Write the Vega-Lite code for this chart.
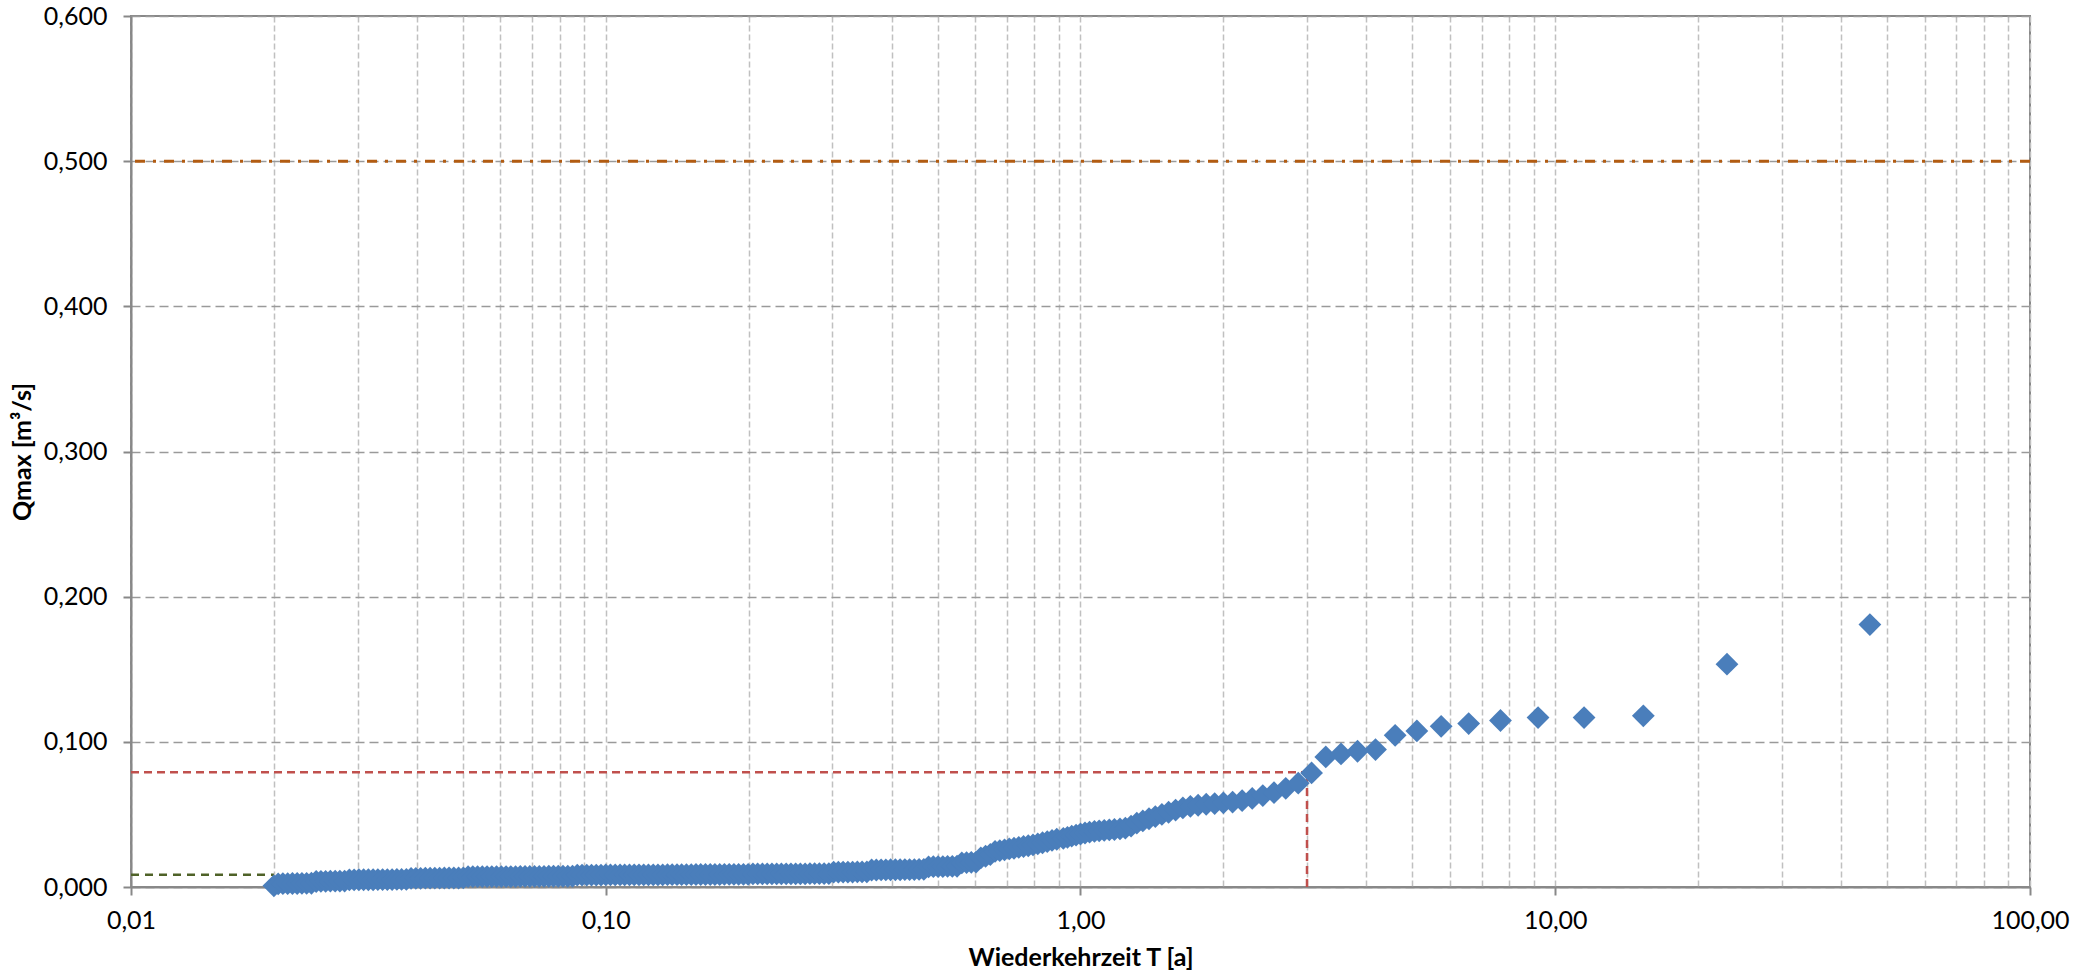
{
"$schema": "https://vega.github.io/schema/vega-lite/v6.json",
"width": 1899, "height": 871,
"autosize": {"type": "none"},
"padding": {"left": 131, "top": 16, "right": 66, "bottom": 92},
"background": "white",
"config": {
  "locale": {"number": {"decimal": ",", "thousands": ".", "grouping": [3], "currency": ["", " €"]}},
  "view": {"stroke": "#888888", "strokeWidth": 2},
  "font": "Lato",
  "axis": {"labelFont": "Lato", "titleFont": "Lato", "labelColor": "#000000", "titleColor": "#000000", "domainColor": "#888888", "domainWidth": 2, "tickColor": "#888888", "tickWidth": 2, "labelFontSize": 25, "titleFontSize": 25, "titleFontWeight": "bold", "labelFlush": false, "labelOverlap": false}
},
"layer": [
  {
    "data": {"values": [{"T":0.02,"Q":0.0008},{"T":46.0,"Q":0.1808}]},
    "mark": {"type": "point", "size": 0, "opacity": 0},
    "encoding": {
      "x": {"field": "T", "type": "quantitative", "title": "Wiederkehrzeit T [a]",
        "scale": {"type": "log", "domain": [0.01, 100], "nice": false},
        "axis": {
          "values": [0.01,0.02,0.03,0.04,0.05,0.06,0.07,0.08,0.09,0.1,0.2,0.3,0.4,0.5,0.6,0.7,0.8,0.9,1,2,3,4,5,6,7,8,9,10,20,30,40,50,60,70,80,90,100],
          "format": ".2f",
          "labelExpr": "abs(log(datum.value)/LN10 - round(log(datum.value)/LN10)) < 0.001 ? datum.label : ''",
          "tickSize": 8,
          "tickOpacity": {"condition": {"test": "abs(log(datum.value)/LN10 - round(log(datum.value)/LN10)) < 0.001", "value": 1}, "value": 0},
          "labelPadding": 13,
          "titlePadding": 12,
          "grid": true, "gridColor": "#c0c0c0", "gridDash": [6, 3], "gridWidth": 1.5
        }
      },
      "y": {"field": "Q", "type": "quantitative", "title": "Qmax [m³/s]",
        "scale": {"domain": [0, 0.6], "nice": false},
        "axis": {
          "values": [0, 0.1, 0.2, 0.3, 0.4, 0.5, 0.6],
          "format": ".3f",
          "tickSize": 8,
          "labelPadding": 16,
          "titlePadding": 8,
          "grid": true, "gridColor": "#9a9a9a", "gridDash": [9, 5], "gridWidth": 1.5
        }
      }
    }
  },
  {
    "data": {"values": [{"Qr": 0.5}]},
    "mark": {"type": "rule", "color": "#b25c12", "strokeWidth": 3, "strokeDash": [10, 8, 3, 8]},
    "encoding": {"y": {"field": "Qr", "type": "quantitative", "title": "Qmax [m³/s]"}}
  },
  {
    "data": {"values": [{"T1": 0.01, "T2": 0.02, "Q1": 0.0085, "Q2": 0.0085}]},
    "mark": {"type": "rule", "color": "#4f6228", "strokeWidth": 2.5, "strokeDash": [8, 6]},
    "encoding": {
      "x": {"field": "T1", "type": "quantitative", "title": "Wiederkehrzeit T [a]"},
      "x2": {"field": "T2"},
      "y": {"field": "Q1", "type": "quantitative", "title": "Qmax [m³/s]"},
      "y2": {"field": "Q2"}
    }
  },
  {
    "data": {"values": [{"T1": 0.01, "T2": 3, "Q1": 0.079, "Q2": 0.079}, {"T1": 3, "T2": 3, "Q1": 0, "Q2": 0.079}]},
    "mark": {"type": "rule", "color": "#c0504d", "strokeWidth": 2.5, "strokeDash": [8, 5]},
    "encoding": {
      "x": {"field": "T1", "type": "quantitative", "title": "Wiederkehrzeit T [a]"},
      "x2": {"field": "T2"},
      "y": {"field": "Q1", "type": "quantitative", "title": "Qmax [m³/s]"},
      "y2": {"field": "Q2"}
    }
  },
  {
    "data": {"values": [
{"T":0.0200,"Q":0.0008},{"T":0.02042,"Q":0.0022},{"T":0.02089,"Q":0.0023},{"T":0.02138,"Q":0.0023},{"T":0.02188,"Q":0.0024},{"T":0.02239,"Q":0.0024},{"T":0.02291,"Q":0.0025},{"T":0.02344,"Q":0.0025},{"T":0.02399,"Q":0.0026},
{"T":0.02455,"Q":0.0038},{"T":0.02512,"Q":0.0039},{"T":0.02570,"Q":0.0039},{"T":0.02630,"Q":0.0040},{"T":0.02692,"Q":0.0040},{"T":0.02754,"Q":0.0041},{"T":0.02818,"Q":0.0041},
{"T":0.02884,"Q":0.0049},{"T":0.02951,"Q":0.0049},{"T":0.03020,"Q":0.0050},{"T":0.03090,"Q":0.0050},{"T":0.03162,"Q":0.0050},{"T":0.03236,"Q":0.0050},{"T":0.03311,"Q":0.0051},{"T":0.03388,"Q":0.0051},{"T":0.03467,"Q":0.0051},{"T":0.03548,"Q":0.0051},{"T":0.03631,"Q":0.0052},{"T":0.03715,"Q":0.0052},{"T":0.03802,"Q":0.0052},
{"T":0.03890,"Q":0.0060},{"T":0.03981,"Q":0.0060},{"T":0.04074,"Q":0.0060},{"T":0.04169,"Q":0.0061},{"T":0.04266,"Q":0.0061},{"T":0.04365,"Q":0.0061},{"T":0.04467,"Q":0.0061},{"T":0.04571,"Q":0.0062},{"T":0.04677,"Q":0.0062},{"T":0.04786,"Q":0.0062},{"T":0.04898,"Q":0.0062},{"T":0.05012,"Q":0.0063},
{"T":0.05129,"Q":0.0071},{"T":0.05248,"Q":0.0071},{"T":0.05370,"Q":0.0071},{"T":0.05495,"Q":0.0071},{"T":0.05623,"Q":0.0072},{"T":0.05754,"Q":0.0072},{"T":0.05888,"Q":0.0072},{"T":0.06026,"Q":0.0072},{"T":0.06166,"Q":0.0072},{"T":0.06310,"Q":0.0072},{"T":0.06457,"Q":0.0072},{"T":0.06607,"Q":0.0073},{"T":0.06761,"Q":0.0073},{"T":0.06918,"Q":0.0073},{"T":0.07079,"Q":0.0073},{"T":0.07244,"Q":0.0073},{"T":0.07413,"Q":0.0073},{"T":0.07586,"Q":0.0074},{"T":0.07762,"Q":0.0074},{"T":0.07943,"Q":0.0074},{"T":0.08128,"Q":0.0074},{"T":0.08318,"Q":0.0074},{"T":0.08511,"Q":0.0074},
{"T":0.08710,"Q":0.0082},{"T":0.08913,"Q":0.0082},{"T":0.09120,"Q":0.0082},{"T":0.09333,"Q":0.0082},{"T":0.09550,"Q":0.0082},{"T":0.09772,"Q":0.0082},{"T":0.1000,"Q":0.0083},{"T":0.1023,"Q":0.0083},{"T":0.1047,"Q":0.0083},{"T":0.1072,"Q":0.0083},{"T":0.1096,"Q":0.0083},{"T":0.1122,"Q":0.0083},{"T":0.1148,"Q":0.0084},{"T":0.1175,"Q":0.0084},{"T":0.1202,"Q":0.0084},{"T":0.1230,"Q":0.0084},{"T":0.1259,"Q":0.0084},{"T":0.1288,"Q":0.0084},{"T":0.1318,"Q":0.0084},{"T":0.1349,"Q":0.0085},{"T":0.1380,"Q":0.0085},{"T":0.1413,"Q":0.0085},{"T":0.1445,"Q":0.0085},{"T":0.1479,"Q":0.0085},{"T":0.1514,"Q":0.0085},{"T":0.1549,"Q":0.0086},{"T":0.1585,"Q":0.0086},{"T":0.1622,"Q":0.0086},{"T":0.1660,"Q":0.0086},{"T":0.1698,"Q":0.0086},{"T":0.1738,"Q":0.0086},{"T":0.1778,"Q":0.0087},{"T":0.1820,"Q":0.0087},{"T":0.1862,"Q":0.0087},{"T":0.1905,"Q":0.0087},{"T":0.1950,"Q":0.0087},{"T":0.1995,"Q":0.0087},
{"T":0.2042,"Q":0.0090},{"T":0.2089,"Q":0.0090},{"T":0.2138,"Q":0.0090},{"T":0.2188,"Q":0.0090},{"T":0.2239,"Q":0.0090},{"T":0.2291,"Q":0.0090},{"T":0.2344,"Q":0.0091},{"T":0.2399,"Q":0.0091},{"T":0.2455,"Q":0.0091},{"T":0.2512,"Q":0.0091},{"T":0.2570,"Q":0.0091},{"T":0.2630,"Q":0.0091},{"T":0.2692,"Q":0.0092},{"T":0.2754,"Q":0.0092},{"T":0.2818,"Q":0.0092},{"T":0.2884,"Q":0.0092},{"T":0.2951,"Q":0.0092},
{"T":0.3020,"Q":0.0102},{"T":0.3090,"Q":0.0102},{"T":0.3162,"Q":0.0103},{"T":0.3236,"Q":0.0103},{"T":0.3311,"Q":0.0103},{"T":0.3388,"Q":0.0104},{"T":0.3467,"Q":0.0104},{"T":0.3548,"Q":0.0104},
{"T":0.3631,"Q":0.0117},{"T":0.3715,"Q":0.0117},{"T":0.3802,"Q":0.0118},{"T":0.3890,"Q":0.0118},{"T":0.3981,"Q":0.0119},{"T":0.4074,"Q":0.0119},{"T":0.4169,"Q":0.0119},{"T":0.4266,"Q":0.0120},{"T":0.4365,"Q":0.0120},{"T":0.4467,"Q":0.0120},{"T":0.4571,"Q":0.0121},{"T":0.4677,"Q":0.0121},
{"T":0.4786,"Q":0.0139},{"T":0.4898,"Q":0.0140},{"T":0.5012,"Q":0.0140},{"T":0.5129,"Q":0.0141},{"T":0.5248,"Q":0.0142},{"T":0.5370,"Q":0.0142},{"T":0.5495,"Q":0.0143},
{"T":0.5623,"Q":0.0166},{"T":0.5754,"Q":0.0168},{"T":0.5888,"Q":0.0170},{"T":0.6026,"Q":0.0172},
{"T":0.6166,"Q":0.0200},{"T":0.6310,"Q":0.0212},{"T":0.6457,"Q":0.0224},
{"T":0.6607,"Q":0.0245},{"T":0.6761,"Q":0.0250},{"T":0.6918,"Q":0.0256},{"T":0.7079,"Q":0.0262},{"T":0.7244,"Q":0.0267},{"T":0.7413,"Q":0.0273},{"T":0.7586,"Q":0.0279},{"T":0.7762,"Q":0.0284},{"T":0.7943,"Q":0.0290},
{"T":0.8128,"Q":0.0297},{"T":0.8318,"Q":0.0305},{"T":0.8511,"Q":0.0313},{"T":0.8710,"Q":0.0321},{"T":0.8913,"Q":0.0329},
{"T":0.920,"Q":0.0335},{"T":0.9388,"Q":0.0342},{"T":0.9583,"Q":0.0350},{"T":0.9787,"Q":0.0357},{"T":1.000,"Q":0.0365},
{"T":1.022,"Q":0.0372},{"T":1.045,"Q":0.0378},{"T":1.070,"Q":0.0383},{"T":1.095,"Q":0.0387},{"T":1.122,"Q":0.0390},{"T":1.150,"Q":0.0393},{"T":1.179,"Q":0.0396},{"T":1.211,"Q":0.0400},{"T":1.243,"Q":0.0405},
{"T":1.278,"Q":0.0420},{"T":1.314,"Q":0.0440},{"T":1.353,"Q":0.0455},{"T":1.394,"Q":0.0470},{"T":1.4375,"Q":0.0485},{"T":1.484,"Q":0.0500},{"T":1.533,"Q":0.0515},{"T":1.586,"Q":0.0530},{"T":1.643,"Q":0.0545},{"T":1.704,"Q":0.0556},
{"T":1.769,"Q":0.0563},{"T":1.840,"Q":0.0570},{"T":1.917,"Q":0.0575},{"T":2.000,"Q":0.0580},{"T":2.091,"Q":0.0585},{"T":2.190,"Q":0.0595},{"T":2.300,"Q":0.0610},{"T":2.421,"Q":0.0630},{"T":2.556,"Q":0.0650},{"T":2.706,"Q":0.0680},{"T":2.875,"Q":0.0715},
{"T":3.067,"Q":0.0786},{"T":3.286,"Q":0.0896},{"T":3.538,"Q":0.0917},{"T":3.833,"Q":0.0935},{"T":4.182,"Q":0.0947},{"T":4.600,"Q":0.1045},{"T":5.111,"Q":0.1075},{"T":5.750,"Q":0.1107},{"T":6.571,"Q":0.1126},{"T":7.667,"Q":0.1147},{"T":9.200,"Q":0.1167},{"T":11.50,"Q":0.1167},{"T":15.33,"Q":0.1179},{"T":23.00,"Q":0.1535},{"T":46.00,"Q":0.1808}
    ]},
    "mark": {"type": "point", "shape": "diamond", "filled": true, "size": 520, "color": "#4a7ebb", "opacity": 1, "strokeWidth": 0},
    "encoding": {
      "x": {"field": "T", "type": "quantitative", "title": "Wiederkehrzeit T [a]"},
      "y": {"field": "Q", "type": "quantitative", "title": "Qmax [m³/s]"}
    }
  }
]
}
